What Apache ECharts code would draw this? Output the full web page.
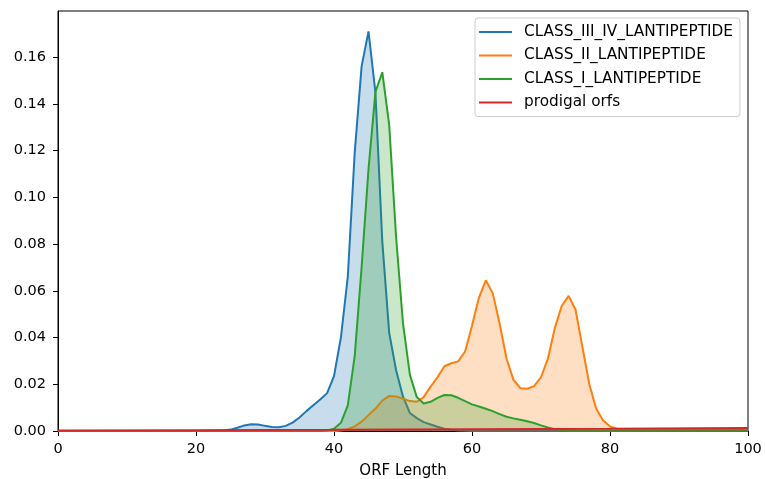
<!DOCTYPE html>
<html><head><meta charset="utf-8">
<script src="https://cdn.jsdelivr.net/npm/echarts@6/dist/echarts.min.js"></script>
<style>html,body{margin:0;padding:0;background:#fff}#c{width:765px;height:479px}</style>
</head><body><div id="c"></div>
<script>
// x positions (ORF length) shared by the three class curves
const xs = [0, 20, 24, 25, 26, 27, 28, 29, 30, 31, 32, 33, 34, 35, 36, 37, 38, 39, 40,
  41, 42, 43, 44, 45, 46, 47, 48, 49, 50, 51, 52, 53, 54, 55, 56, 57, 58, 59, 60,
  61, 62, 63, 64, 65, 66, 67, 68, 69, 70, 71, 72, 73, 74, 75, 76, 77, 78, 79, 80,
  81, 82, 90, 100];
const classIIIIV = [0, 0, 0.0002, 0.0006, 0.0014, 0.0024, 0.0029, 0.0028, 0.0022, 0.0017, 0.0016, 0.0022, 0.0036, 0.0058, 0.0085, 0.0110, 0.0135, 0.0162, 0.0235,
  0.040, 0.066, 0.119, 0.156, 0.171, 0.145, 0.081, 0.042, 0.026, 0.0147, 0.0077, 0.0055, 0.0038, 0.0028, 0.0018, 0.0010, 0.0005, 0.0002, 0.0001, 0,
  0, 0, 0, 0, 0, 0, 0, 0, 0, 0, 0, 0, 0, 0, 0, 0, 0, 0, 0, 0,
  0, 0, 0, 0];
const classII = [0, 0, 0, 0, 0, 0, 0, 0, 0, 0, 0, 0, 0, 0, 0, 0, 0, 0, 0,
  0.0002, 0.0008, 0.002, 0.004, 0.0068, 0.0095, 0.013, 0.015, 0.0148, 0.0138, 0.0128, 0.0125, 0.0145, 0.019, 0.023, 0.0277, 0.029, 0.0298, 0.034, 0.045,
  0.057, 0.0645, 0.059, 0.046, 0.031, 0.022, 0.0183, 0.0181, 0.0192, 0.023, 0.031, 0.044, 0.0535, 0.0578, 0.052, 0.036, 0.020, 0.0095, 0.0045, 0.002,
  0.001, 0.0008, 0.0008, 0.0008];
const classI = [0, 0, 0, 0, 0, 0, 0, 0, 0, 0, 0, 0, 0, 0, 0, 0, 0, 0.0002, 0.001,
  0.0035, 0.011, 0.032, 0.070, 0.112, 0.145, 0.1535, 0.131, 0.083, 0.046, 0.024, 0.0145, 0.0118, 0.0125, 0.0142, 0.0154, 0.0153, 0.0142, 0.0128, 0.0114,
  0.0105, 0.0095, 0.0085, 0.0072, 0.0061, 0.0054, 0.0048, 0.0042, 0.0034, 0.0024, 0.0015, 0.0008, 0.0004, 0.0002, 0.0001, 0.0001, 0.0001, 0.0001, 0.0001, 0.0001,
  0.0001, 0.0001, 0.0002, 0.0003];
// prodigal orfs curve
const prodigalX = [0, 20, 40, 60, 80, 100];
const prodigal = [0.0002, 0.0003, 0.0005, 0.0008, 0.0010, 0.0013];
const names = ['CLASS_III_IV_LANTIPEPTIDE', 'CLASS_II_LANTIPEPTIDE', 'CLASS_I_LANTIPEPTIDE', 'prodigal orfs'];
const colors = ['#1f77b4', '#ff7f0e', '#2ca02c', '#d62728'];
const xTicks = [0, 20, 40, 60, 80, 100];

const pairs = (x, y) => x.map((v, i) => [v, y[i]]);
const seriesData = [pairs(xs, classIIIIV), pairs(xs, classII), pairs(xs, classI), pairs(prodigalX, prodigal)];

const chart = echarts.init(document.getElementById('c'));
const font = 'DejaVu Sans';
chart.setOption({
  animation: false,
  color: colors,
  textStyle: { fontFamily: font },
  grid: { left: 58, right: 17, top: 11, bottom: 48, containLabel: false, outerBoundsMode: 'none',
    show: true, borderColor: '#000', borderWidth: 1, backgroundColor: 'transparent' },
  legend: {
    orient: 'vertical', left: 475, top: 18, padding: [5, 7, 5, 4],
    data: names, icon: 'rect', itemWidth: 33, itemHeight: 2, itemGap: 5.5,
    borderColor: '#cccccc', borderWidth: 1, borderRadius: 3, backgroundColor: '#fff',
    textStyle: { fontFamily: font, fontSize: 15.3, color: '#000', padding: [0, 0, 0, 7], lineHeight: 18 }
  },
  xAxis: {
    type: 'value', min: 0, max: 100, interval: 20,
    name: 'ORF Length', nameLocation: 'middle', nameGap: 33,
    nameTextStyle: { fontFamily: font, fontSize: 15, color: '#000' },
    axisLine: { lineStyle: { color: '#000' } },
    axisTick: { show: true, length: 5, lineStyle: { color: '#000' } },
    axisLabel: { fontFamily: font, fontSize: 14.5, color: '#000', margin: 11,
      formatter: v => xTicks.includes(v) ? String(v) : '' },
    splitLine: { show: false }
  },
  yAxis: {
    type: 'value', min: 0, max: 0.1797, interval: 0.02,
    axisLine: { show: true, lineStyle: { color: '#000' } },
    axisTick: { show: true, length: 5, lineStyle: { color: '#000' } },
    axisLabel: { fontFamily: font, fontSize: 14.5, color: '#000', margin: 12, showMaxLabel: false,
      formatter: v => v.toFixed(2) },
    splitLine: { show: false }
  },
  series: names.map((n, i) => ({
    name: n, type: 'line', data: seriesData[i], symbol: 'none', smooth: false,
    lineStyle: { width: 2, color: colors[i] },
    areaStyle: { color: colors[i], opacity: 0.25 },
    z: 2 + i
  }))
});
</script></body></html>
